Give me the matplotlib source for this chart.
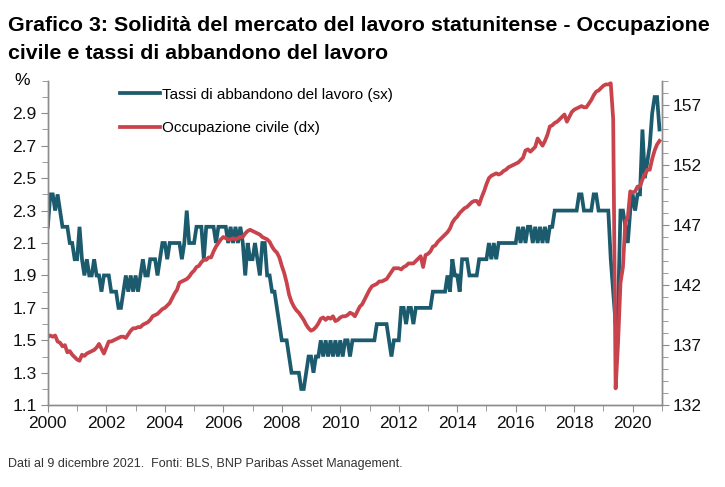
import numpy as np
import matplotlib.pyplot as plt
from matplotlib.ticker import MultipleLocator, FixedLocator

plt.rcParams['font.family'] = ['Liberation Sans Narrow', 'Liberation Sans', 'DejaVu Sans']

# tasso di abbandono del lavoro (%), mensile, scala sinistra
quits = [
    2.2, 2.4, 2.4, 2.3, 2.4, 2.3, 2.2, 2.2, 2.2, 2.1, 2.1, 2.0,
    2.0, 2.2, 2.0, 1.9, 2.0, 1.9, 1.9, 2.0, 1.9, 1.9, 1.8, 1.9,
    1.9, 1.9, 1.8, 1.8, 1.8, 1.7, 1.7, 1.8, 1.9, 1.8, 1.9, 1.8,
    1.9, 1.8, 1.9, 2.0, 1.9, 1.9, 2.0, 2.0, 2.0, 1.9, 2.0, 2.1,
    2.1, 2.0, 2.1, 2.1, 2.1, 2.1, 2.1, 2.0, 2.1, 2.3, 2.1, 2.1,
    2.1, 2.2, 2.2, 2.2, 2.0, 2.2, 2.2, 2.2, 2.2, 2.1, 2.2, 2.2,
    2.2, 2.2, 2.1, 2.2, 2.1, 2.2, 2.1, 2.2, 2.1, 1.9, 2.1, 2.0,
    2.0, 2.1, 2.0, 1.9, 2.1, 2.1, 1.9, 1.9, 1.8, 1.8, 1.7, 1.6,
    1.5, 1.5, 1.5, 1.4, 1.3, 1.3, 1.3, 1.3, 1.2, 1.2, 1.3, 1.4,
    1.4, 1.3, 1.4, 1.4, 1.5, 1.4, 1.5, 1.4, 1.5, 1.4, 1.5, 1.4,
    1.5, 1.4, 1.5, 1.5, 1.4, 1.5, 1.5, 1.5, 1.5, 1.5, 1.5, 1.5,
    1.5, 1.5, 1.5, 1.6, 1.6, 1.6, 1.6, 1.6, 1.5, 1.4, 1.5, 1.5,
    1.5, 1.7, 1.7, 1.6, 1.7, 1.7, 1.6, 1.7, 1.7, 1.7, 1.7, 1.7,
    1.7, 1.7, 1.8, 1.8, 1.8, 1.8, 1.8, 1.8, 1.9, 1.8, 2.0, 1.9,
    1.9, 1.8, 2.0, 2.0, 2.0, 1.9, 1.9, 1.9, 1.9, 2.0, 2.0, 2.0,
    2.0, 2.1, 2.0, 2.1, 2.0, 2.1, 2.1, 2.1, 2.1, 2.1, 2.1, 2.1,
    2.1, 2.2, 2.1, 2.2, 2.1, 2.2, 2.2, 2.1, 2.2, 2.1, 2.2, 2.1,
    2.2, 2.1, 2.2, 2.2, 2.3, 2.3, 2.3, 2.3, 2.3, 2.3, 2.3, 2.3,
    2.3, 2.3, 2.4, 2.4, 2.3, 2.3, 2.3, 2.3, 2.4, 2.4, 2.3, 2.3,
    2.3, 2.3, 2.3, 2.0, 1.8, 1.6, 1.7, 2.3, 2.3, 2.2, 2.1, 2.3,
    2.4, 2.3, 2.4, 2.4, 2.8, 2.5, 2.6, 2.7, 2.9, 3.0, 3.0, 2.8,
]

# occupazione civile (milioni), mensile, scala destra
employment = [
    137.7, 137.8, 137.7, 137.8, 137.3, 137.2, 136.9, 137.0, 136.4, 136.5, 136.2, 136.0,
    135.8, 135.7, 136.2, 136.1, 136.3, 136.4, 136.5, 136.6, 136.8, 137.1, 136.7, 136.3,
    136.8, 137.3, 137.3, 137.4, 137.5, 137.6, 137.7, 137.7, 137.6, 137.9, 138.2, 138.4,
    138.4, 138.5, 138.5, 138.7, 138.8, 138.9, 139.1, 139.4, 139.5, 139.6, 139.8, 140.0,
    140.1, 140.3, 140.5, 140.9, 141.3, 141.6, 142.2, 142.3, 142.4, 142.5, 142.7, 143.0,
    143.2, 143.5, 143.6, 143.9, 144.1, 144.1, 144.3, 144.3, 144.8, 145.2, 145.5, 145.8,
    146.0, 145.9, 145.8, 145.8, 145.9, 145.8, 145.9, 146.0, 146.0, 146.3, 146.5, 146.6,
    146.5, 146.4, 146.3, 146.2, 146.0, 145.9, 145.8, 145.6, 145.2, 144.9, 144.7, 144.3,
    143.6, 143.0, 142.2, 141.2, 140.6, 140.2, 139.9, 139.7, 139.4, 139.1, 138.7, 138.4,
    138.2, 138.3, 138.5, 138.8, 139.2, 139.3, 139.1, 139.3, 139.2, 139.4, 139.0, 139.1,
    139.3, 139.4, 139.4, 139.5, 139.7, 139.6, 139.4, 139.8, 140.2, 140.4, 140.8, 141.2,
    141.6, 141.9, 142.0, 142.1, 142.3, 142.3, 142.4, 142.5, 142.8, 143.1, 143.4, 143.4,
    143.4, 143.3, 143.5, 143.6, 143.8, 143.8, 143.8, 144.0, 144.2, 144.4, 143.5, 144.5,
    144.6, 144.8, 145.2, 145.3, 145.6, 145.8, 146.0, 146.2, 146.4, 146.7, 147.2, 147.5,
    147.7, 148.0, 148.2, 148.4, 148.5, 148.7, 148.9, 149.0, 149.0, 148.7, 149.3, 149.8,
    150.4, 150.9, 151.1, 151.2, 151.3, 151.2, 151.3, 151.5, 151.6, 151.8, 151.9, 152.0,
    152.1, 152.2, 152.4, 152.6, 153.2, 153.3, 153.1, 153.3, 153.5, 154.2, 153.9, 153.6,
    154.0, 154.5, 155.2, 155.3, 155.5, 155.6, 155.8, 156.0, 156.2, 155.6, 156.0, 156.4,
    156.6, 156.7, 156.8, 156.9, 156.8, 156.8, 157.1, 157.4, 157.8, 158.1, 158.2, 158.4,
    158.6, 158.7, 158.7, 158.8, 155.8, 133.4, 137.2, 142.2, 143.5, 147.3, 147.6, 149.8,
    149.7, 149.8, 150.2, 150.2, 150.8, 151.2, 151.6, 151.6, 152.5, 153.2, 153.7, 154.0,
]

year_labels = list(range(2000, 2021, 2))
left_ticks = [1.1, 1.3, 1.5, 1.7, 1.9, 2.1, 2.3, 2.5, 2.7, 2.9]
right_ticks = [132, 137, 142, 147, 152, 157]

blue = '#1b5b6d'
red = '#c8434c'
grey = '#8c8c8c'

x = 2000 + np.arange(len(quits)) / 12

fig = plt.figure(figsize=(7.25, 4.87), dpi=100)
ax = fig.add_axes([0.066, 0.168, 0.847, 0.666])
ax2 = ax.twinx()

l1, = ax.plot(x, quits, color=blue, lw=2.7, solid_joinstyle='miter')
l2, = ax2.plot(x, employment, color=red, lw=2.7)

ax.set_xlim(2000, 2021)
ax.set_ylim(1.1, 3.1)
ax2.set_ylim(132, 159)

ax.xaxis.set_major_locator(FixedLocator(year_labels))
ax.xaxis.set_minor_locator(MultipleLocator(1))
ax.yaxis.set_major_locator(FixedLocator(left_ticks))
ax.yaxis.set_minor_locator(MultipleLocator(0.1))
ax2.yaxis.set_major_locator(FixedLocator(right_ticks))
ax2.yaxis.set_minor_locator(MultipleLocator(1))
ax.set_xticklabels([str(y) for y in year_labels])
ax.set_yticklabels(['%.1f' % v for v in left_ticks])

for a in (ax, ax2):
    a.spines['top'].set_visible(False)
    for s in ('left', 'right', 'bottom'):
        a.spines[s].set_color(grey)
        a.spines[s].set_linewidth(1.0)
    a.tick_params(which='both', color=grey, direction='out', labelsize=12.5,
                  labelcolor='#111111', pad=3)
    a.tick_params(which='major', length=5)
    a.tick_params(which='minor', length=4)

ax.text(-0.042, 1.0, '%', transform=ax.transAxes, fontsize=12.5, ha='center', va='center')

ax2.legend([l1, l2], ['Tassi di abbandono del lavoro (sx)', 'Occupazione civile (dx)'],
           loc='upper left', bbox_to_anchor=(0.115, 0.984), frameon=False, fontsize=11,
           handlelength=2.6, handletextpad=0.15, labelspacing=1.3,
           borderaxespad=0, borderpad=0.1)

fig.text(0.011, 1 - 31 / 487, 'Grafico 3: Solidità del mercato del lavoro statunitense - Occupazione',
         fontsize=15.4, fontweight='bold', va='baseline', ha='left')
fig.text(0.011, 1 - 59 / 487, 'civile e tassi di abbandono del lavoro',
         fontsize=15.4, fontweight='bold', va='baseline', ha='left')
fig.text(0.011, 0.048, 'Dati al 9 dicembre 2021.  Fonti: BLS, BNP Paribas Asset Management.',
         fontsize=9, color='#333333', va='center', ha='left')

fig.savefig('out.png', dpi=100)
